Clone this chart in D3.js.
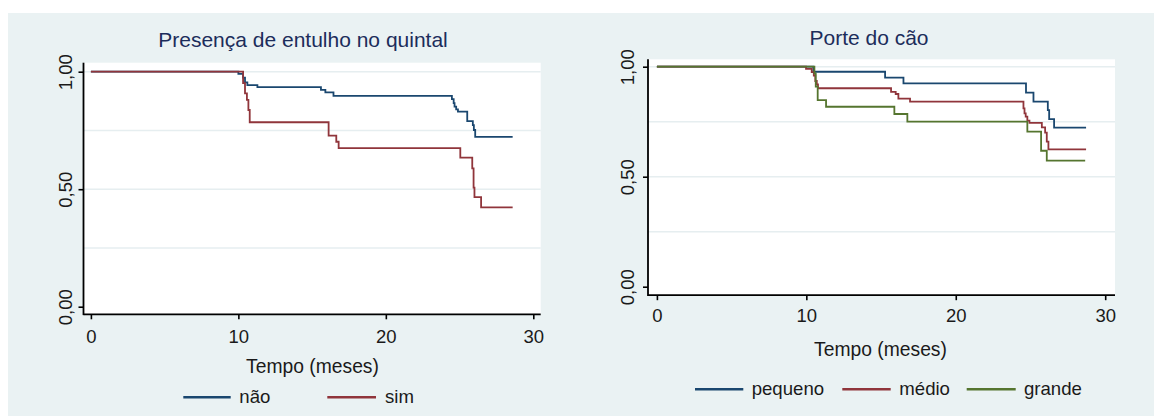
<!DOCTYPE html>
<html>
<head>
<meta charset="utf-8">
<script src="https://cdn.jsdelivr.net/npm/d3@7"></script>
<style>
  body { margin: 0; background: #ffffff; }
  svg { display: block; font-family: "Liberation Sans", Arial, sans-serif; }
</style>
</head>
<body>
<svg id="chart" width="1154" height="416"></svg>
<script>
// Kaplan–Meier survival estimates (time in months, survival proportion)

// Panel 1: presença de entulho no quintal
const gruposEntulho = ["não", "sim"];
const tempoNao = [0, 10.0, 10.32, 10.45, 10.61, 11.29, 15.6, 15.9, 16.45, 24.48, 24.6, 24.66, 24.77, 24.89, 25.52, 25.9, 25.97, 26.06, 28.6];
const survNao  = [1, 0.991, 0.975, 0.955, 0.943, 0.934, 0.923, 0.912, 0.897, 0.883, 0.866, 0.851, 0.84, 0.83, 0.79, 0.773, 0.752, 0.723, 0.723];
const tempoSim = [0, 10.32, 10.45, 10.58, 10.68, 10.77, 16.12, 16.64, 16.8, 25.05, 25.86, 25.95, 26.01, 26.46, 28.6];
const survSim  = [1, 0.951, 0.908, 0.88, 0.837, 0.785, 0.728, 0.702, 0.675, 0.634, 0.589, 0.507, 0.466, 0.423, 0.423];

// Panel 2: porte do cão
const gruposPorte = ["pequeno", "médio", "grande"];
const tempoPeq = [0, 10.47, 15.27, 16.5, 24.7, 25.2, 26.16, 26.25, 26.58, 28.72];
const survPeq  = [1, 0.977, 0.95, 0.9245, 0.882, 0.841, 0.803, 0.762, 0.723, 0.723];
const tempoMed = [0, 9.98, 10.36, 10.5, 10.6, 10.7, 10.78, 15.67, 15.98, 16.16, 16.94, 24.53, 24.6, 24.68, 24.79, 24.93, 25.76, 25.98, 26.09, 26.2, 28.72];
const survMed  = [1, 0.99, 0.975, 0.96, 0.935, 0.92, 0.902, 0.886, 0.876, 0.855, 0.841, 0.811, 0.788, 0.773, 0.755, 0.745, 0.724, 0.70, 0.659, 0.624, 0.624];
const tempoGra = [0, 10.54, 10.63, 10.76, 11.32, 15.89, 16.76, 24.79, 25.71, 26.09, 28.66];
const survGra  = [1, 0.97, 0.909, 0.848, 0.818, 0.785, 0.75, 0.705, 0.618, 0.573, 0.573];

// Axis ticks
const xTicks = [0, 10, 20, 30];
const yTicks = [0, 0.5, 1];
const yGrid = [0.25, 0.5, 0.75, 1];
const xTitle = "Tempo (meses)";

const cores = { navy: "#1a476f", maroon: "#90353b", green: "#55752f" };
const ptBR = d3.formatLocale({ decimal: ",", thousands: ".", grouping: [3], currency: ["R$", ""] });
const fmtY = ptBR.format(".2f");

const svg = d3.select("#chart");

// Graph region background
svg.append("rect").attr("x", 8).attr("y", 13).attr("width", 1146).attr("height", 403).attr("fill", "#eaf2f3");

const paineis = [
  {
    titulo: "Presença de entulho no quintal",
    titleX: 303, titleY: 46.7,
    box: { x0: 83.5, x1: 540.7, y0: 62.7, y1: 314.3 },
    xRange: [90.9, 533.3], yRange: [306.7, 71.7],
    xLabelBase: 28.4, yLabelOff: 12,
    axisTitle: { x: 312.5, y: 372.7 },
    series: [
      { nome: gruposEntulho[0], t: tempoNao, s: survNao, cor: cores.navy },
      { nome: gruposEntulho[1], t: tempoSim, s: survSim, cor: cores.maroon }
    ],
    legenda: { y: 397.3, itens: [{ x0: 183.3, x1: 230.7, tx: 239.3 }, { x0: 327.3, x1: 376, tx: 385 }] }
  },
  {
    titulo: "Porte do cão",
    titleX: 869, titleY: 45,
    box: { x0: 648, x1: 1115, y0: 59.3, y1: 295.2 },
    xRange: [656.9, 1105.2], yRange: [286.7, 66.7],
    xLabelBase: 26.7, yLabelOff: 14.5,
    axisTitle: { x: 880.5, y: 356 },
    series: [
      { nome: gruposPorte[0], t: tempoPeq, s: survPeq, cor: cores.navy },
      { nome: gruposPorte[1], t: tempoMed, s: survMed, cor: cores.maroon },
      { nome: gruposPorte[2], t: tempoGra, s: survGra, cor: cores.green }
    ],
    legenda: { y: 389.3, itens: [{ x0: 695, x1: 743.3, tx: 751.7 }, { x0: 842.3, x1: 890.7, tx: 899.3 }, { x0: 966.7, x1: 1015.7, tx: 1024 }] }
  }
];

paineis.forEach(p => {
  const g = svg.append("g");
  const b = p.box;
  const x = d3.scaleLinear().domain([0, 30]).range(p.xRange);
  const y = d3.scaleLinear().domain([0, 1]).range(p.yRange);

  // Plot region
  g.append("rect").attr("x", b.x0).attr("y", b.y0)
    .attr("width", b.x1 - b.x0).attr("height", b.y1 - b.y0).attr("fill", "#ffffff");

  // Gridlines
  g.selectAll(".grid").data(yGrid).enter().append("line")
    .attr("x1", b.x0).attr("x2", b.x1)
    .attr("y1", d => y(d)).attr("y2", d => y(d))
    .attr("stroke", "#e6eef0").attr("stroke-width", 1.6);

  // Survival curves
  const linha = d3.line().x(d => x(d[0])).y(d => y(d[1])).curve(d3.curveStepAfter);
  p.series.forEach(se => {
    const pts = se.t.map((t, i) => [t, se.s[i]]);
    g.append("path").datum(pts).attr("d", linha)
      .attr("fill", "none").attr("stroke", se.cor).attr("stroke-width", 1.8)
      .attr("stroke-linejoin", "miter");
  });

  // Y axis
  const ay = g.append("g").attr("transform", `translate(${b.x0},0)`)
    .call(d3.axisLeft(y).tickValues(yTicks).tickFormat(fmtY).tickSize(5).tickSizeOuter(0));
  ay.select(".domain").remove();
  ay.selectAll(".tick line").attr("stroke", "#000").attr("stroke-width", 1.6);
  ay.selectAll(".tick text")
    .attr("x", 0).attr("dy", 0)
    .attr("transform", `translate(${-p.yLabelOff},0) rotate(-90)`)
    .attr("text-anchor", "middle")
    .attr("font-size", 18.5).attr("fill", "#1a1a1a")
    .attr("font-family", "'Liberation Sans', Arial, sans-serif");

  // X axis
  const ax = g.append("g").attr("transform", `translate(0,${b.y1})`)
    .call(d3.axisBottom(x).tickValues(xTicks).tickFormat(d3.format("d")).tickSize(5).tickSizeOuter(0));
  ax.select(".domain").remove();
  ax.selectAll(".tick line").attr("stroke", "#000").attr("stroke-width", 1.6);
  ax.selectAll(".tick text")
    .attr("y", p.xLabelBase).attr("dy", 0)
    .attr("font-size", 18.5).attr("fill", "#1a1a1a")
    .attr("font-family", "'Liberation Sans', Arial, sans-serif");

  // Axis lines
  g.append("line").attr("x1", b.x0).attr("x2", b.x0).attr("y1", b.y0).attr("y2", b.y1 + 0.8)
    .attr("stroke", "#000").attr("stroke-width", 1.8);
  g.append("line").attr("x1", b.x0).attr("x2", b.x1).attr("y1", b.y1).attr("y2", b.y1)
    .attr("stroke", "#000").attr("stroke-width", 1.8);

  // Title
  g.append("text").attr("x", p.titleX).attr("y", p.titleY)
    .attr("text-anchor", "middle").attr("font-size", 21).attr("fill", "#1c2d5b")
    .text(p.titulo);

  // Axis title
  g.append("text").attr("x", p.axisTitle.x).attr("y", p.axisTitle.y)
    .attr("text-anchor", "middle").attr("font-size", 19.3).attr("fill", "#1a1a1a")
    .text(xTitle);

  // Legend
  p.series.forEach((se, i) => {
    const it = p.legenda.itens[i];
    g.append("line").attr("x1", it.x0).attr("x2", it.x1)
      .attr("y1", p.legenda.y).attr("y2", p.legenda.y)
      .attr("stroke", se.cor).attr("stroke-width", 2.6);
    g.append("text").attr("x", it.tx).attr("y", p.legenda.y + 5.5)
      .attr("font-size", 18.6).attr("fill", "#1a1a1a").text(se.nome);
  });
});
</script>
</body>
</html>
